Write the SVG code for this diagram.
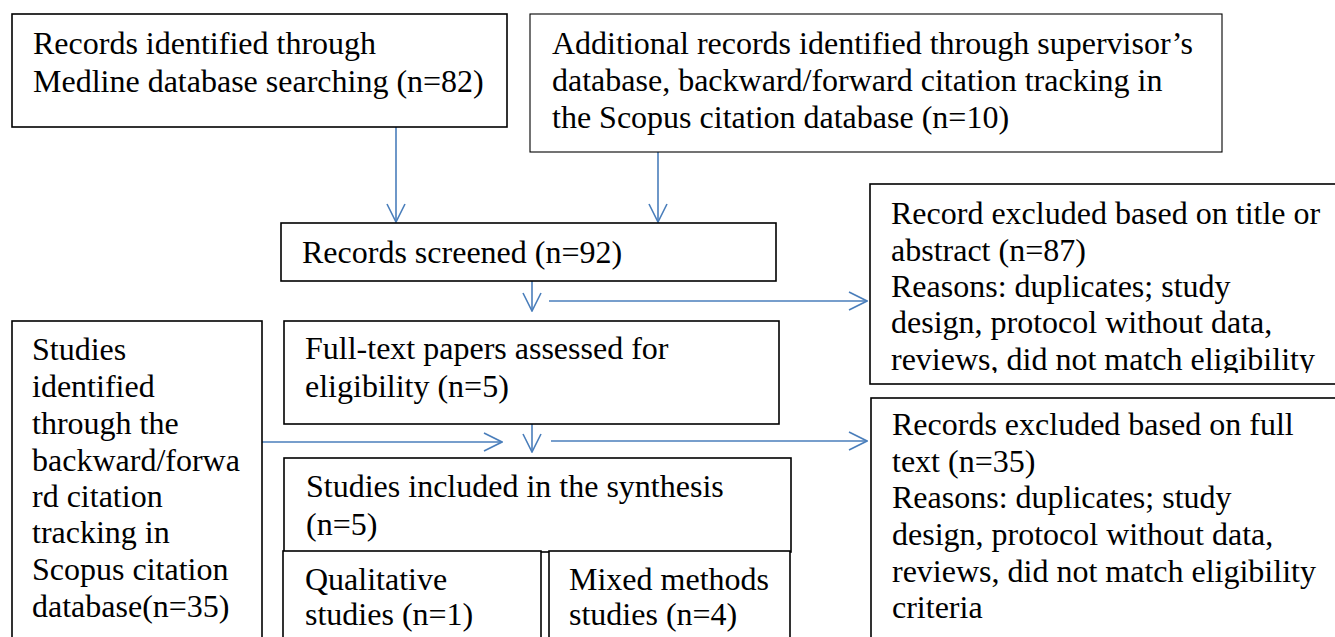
<svg xmlns="http://www.w3.org/2000/svg" width="1335" height="637" viewBox="0 0 1335 637">
<style>
  .box { fill: #ffffff; stroke: #000000; stroke-width: 1.6; }
  .thin { stroke-width: 1.1; }
  .t { font-family: "Liberation Serif", "Times New Roman", serif; font-size: 32px; fill: #000000; }
  .conn { stroke: #4A7EBB; stroke-width: 1.6; fill: none; }
</style>
<defs>
  <marker id="arr" viewBox="0 0 20 20" refX="19" refY="10" markerWidth="20" markerHeight="20" markerUnits="userSpaceOnUse" orient="auto">
    <path d="M1,1 L19,10 L1,19" fill="none" stroke="#4A7EBB" stroke-width="1.6"/>
  </marker>
  <clipPath id="clipR1"><rect x="870" y="184" width="470" height="189"/></clipPath>
</defs>
<rect width="1335" height="637" fill="#ffffff"/>

<g id="connectors">
  <line class="conn" x1="396" y1="127" x2="396" y2="222" marker-end="url(#arr)"/>
  <line class="conn" x1="658" y1="152" x2="658" y2="222" marker-end="url(#arr)"/>
  <line class="conn" x1="532" y1="281" x2="532" y2="311" marker-end="url(#arr)"/>
  <line class="conn" x1="549" y1="301" x2="867" y2="301" marker-end="url(#arr)"/>
  <line class="conn" x1="532" y1="424" x2="532" y2="452" marker-end="url(#arr)"/>
  <line class="conn" x1="262" y1="442" x2="502" y2="442" marker-end="url(#arr)"/>
  <line class="conn" x1="551" y1="441" x2="867" y2="441" marker-end="url(#arr)"/>
</g>

<g id="medline">
  <rect class="box" x="12" y="14" width="495" height="113"/>
  <text class="t" x="33" y="54">Records identified through</text>
  <text class="t" x="33" y="92">Medline database searching (n=82)</text>
</g>

<g id="additional">
  <rect class="box thin" x="530" y="14" width="692" height="138"/>
  <text class="t" x="552" y="54">Additional records identified through supervisor’s</text>
  <text class="t" x="552" y="91">database, backward/forward citation tracking in</text>
  <text class="t" x="552" y="128">the Scopus citation database (n=10)</text>
</g>

<g id="screened">
  <rect class="box" x="281" y="223" width="495" height="58"/>
  <text class="t" x="302" y="263">Records screened (n=92)</text>
</g>

<g id="excluded1">
  <rect class="box" x="870" y="184" width="470" height="200"/>
  <g clip-path="url(#clipR1)">
    <text class="t" x="891" y="224">Record excluded based on title or</text>
    <text class="t" x="891" y="261">abstract (n=87)</text>
    <text class="t" x="891" y="297">Reasons: duplicates; study</text>
    <text class="t" x="891" y="333">design, protocol without data,</text>
    <text class="t" x="891" y="370">reviews, did not match eligibility</text>
  </g>
</g>

<g id="fulltext">
  <rect class="box" x="284" y="321" width="495" height="103"/>
  <text class="t" x="305" y="359">Full-text papers assessed for</text>
  <text class="t" x="305" y="397">eligibility (n=5)</text>
</g>

<g id="studies-identified">
  <rect class="box" x="12" y="321" width="250" height="330"/>
  <text class="t" x="32" y="360">Studies</text>
  <text class="t" x="32" y="397">identified</text>
  <text class="t" x="32" y="434">through the</text>
  <text class="t" x="32" y="471">backward/forwa</text>
  <text class="t" x="32" y="507">rd citation</text>
  <text class="t" x="32" y="543">tracking in</text>
  <text class="t" x="32" y="580">Scopus citation</text>
  <text class="t" x="32" y="617">database(n=35)</text>
</g>

<g id="excluded2">
  <rect class="box" x="871" y="398" width="470" height="260"/>
  <text class="t" x="892" y="435">Records excluded based on full</text>
  <text class="t" x="892" y="472">text (n=35)</text>
  <text class="t" x="892" y="508">Reasons: duplicates; study</text>
  <text class="t" x="892" y="545">design, protocol without data,</text>
  <text class="t" x="892" y="582">reviews, did not match eligibility</text>
  <text class="t" x="892" y="618">criteria</text>
</g>

<g id="included">
  <rect class="box" x="284" y="458" width="507" height="94"/>
  <text class="t" x="306" y="497">Studies included in the synthesis</text>
  <text class="t" x="306" y="535">(n=5)</text>
</g>

<g id="qualitative">
  <rect class="box" x="283" y="551" width="258" height="100"/>
  <text class="t" x="305" y="590">Qualitative</text>
  <text class="t" x="305" y="625">studies (n=1)</text>
</g>

<g id="mixed">
  <rect class="box" x="549" y="551" width="241" height="100"/>
  <text class="t" x="569" y="590">Mixed methods</text>
  <text class="t" x="569" y="625">studies (n=4)</text>
</g>
</svg>
